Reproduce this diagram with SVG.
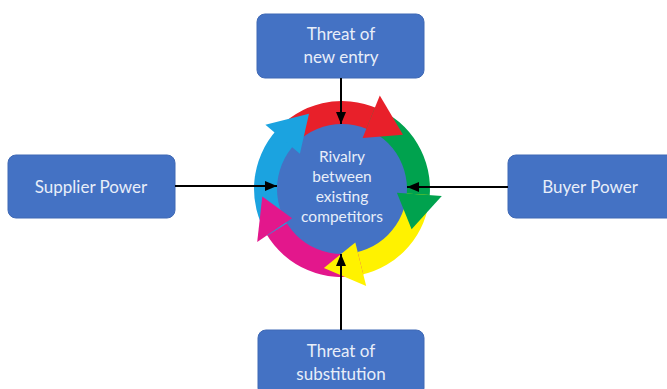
<svg xmlns="http://www.w3.org/2000/svg" width="667" height="389" viewBox="0 0 667 389">
<defs>
<style>
.box{fill:#4472C4;stroke:#3F69B5;stroke-width:1}
.lbl{font-family:Lato,"Open Sans","Liberation Sans",sans-serif;font-size:17px;fill:#E8EEF9;text-anchor:middle}
.ctr{font-family:Lato,"Open Sans","Liberation Sans",sans-serif;font-size:15.5px;fill:#E8EEF9;text-anchor:middle}
.con{stroke:#000;stroke-width:2;fill:none;marker-end:url(#ah)}
</style>
<marker id="ah" markerUnits="userSpaceOnUse" markerWidth="12" markerHeight="10" refX="12" refY="5" orient="auto">
<path d="M0,0 L12,5 L0,10 z" fill="#000"/>
</marker>
</defs>
<rect width="667" height="389" fill="#fff"/>
<g id="rivalry">
<path d="M274.6,132.4 A88,88 0 0 1 377.8,108.6 L366.4,134.2 A60,60 0 0 0 296.0,150.4 Z" fill="#E8202A"/>
<path d="M375.0,107.4 A88,88 0 0 1 429.5,198.2 L401.7,195.3 A60,60 0 0 0 364.5,133.4 Z" fill="#00A24E"/>
<path d="M429.8,195.1 A88,88 0 0 1 360.3,275.1 L354.5,247.7 A60,60 0 0 0 401.9,193.2 Z" fill="#FFF200"/>
<path d="M363.3,274.4 A88,88 0 0 1 265.8,233.0 L290.0,219.0 A60,60 0 0 0 356.5,247.2 Z" fill="#E3178C"/>
<path d="M267.4,235.6 A88,88 0 0 1 276.6,130.1 L297.4,148.9 A60,60 0 0 0 291.1,220.8 Z" fill="#1BA3E0"/>
<circle cx="342" cy="189" r="65" fill="#4472C4"/>
<path d="M362.6,138.1 L379.8,95.6 L403.0,134.8 Z" fill="#E8202A"/>
<path d="M396.9,192.8 L441.8,196.0 L411.6,229.3 Z" fill="#00A24E"/>
<path d="M355.3,242.4 L366.2,286.0 L323.9,267.9 Z" fill="#FFF200"/>
<path d="M292.1,218.2 L257.2,242.0 L262.3,196.4 Z" fill="#E3178C"/>
<path d="M299.9,153.7 L265.4,124.7 L309.0,113.8 Z" fill="#1BA3E0"/>
</g>
<g id="new-entry">
<rect class="box" x="257" y="14" width="167" height="64" rx="8"/>
<text class="lbl" x="341" y="40">Threat of</text>
<text class="lbl" x="341" y="63">new entry</text>
</g>
<g id="supplier">
<rect class="box" x="8" y="155" width="167" height="63" rx="8"/>
<text class="lbl" x="91" y="193">Supplier Power</text>
</g>
<g id="buyer">
<rect class="box" x="508" y="155" width="167" height="63" rx="8"/>
<text class="lbl" x="590" y="193">Buyer Power</text>
</g>
<g id="substitution">
<rect class="box" x="258" y="330" width="166" height="66" rx="8"/>
<text class="lbl" x="341" y="357">Threat of</text>
<text class="lbl" x="341" y="380">substitution</text>
</g>
<g id="connectors">
<line class="con" x1="341" y1="78" x2="341" y2="124"/>
<line class="con" x1="175" y1="186" x2="277" y2="186"/>
<line class="con" x1="508" y1="187" x2="407" y2="187"/>
<line class="con" x1="341" y1="330" x2="341" y2="254"/>
</g>
<g id="rivalry-text">
<text class="ctr" x="342" y="162">Rivalry</text>
<text class="ctr" x="342" y="182">between</text>
<text class="ctr" x="342" y="202">existing</text>
<text class="ctr" x="342" y="222">competitors</text>
</g>
</svg>
